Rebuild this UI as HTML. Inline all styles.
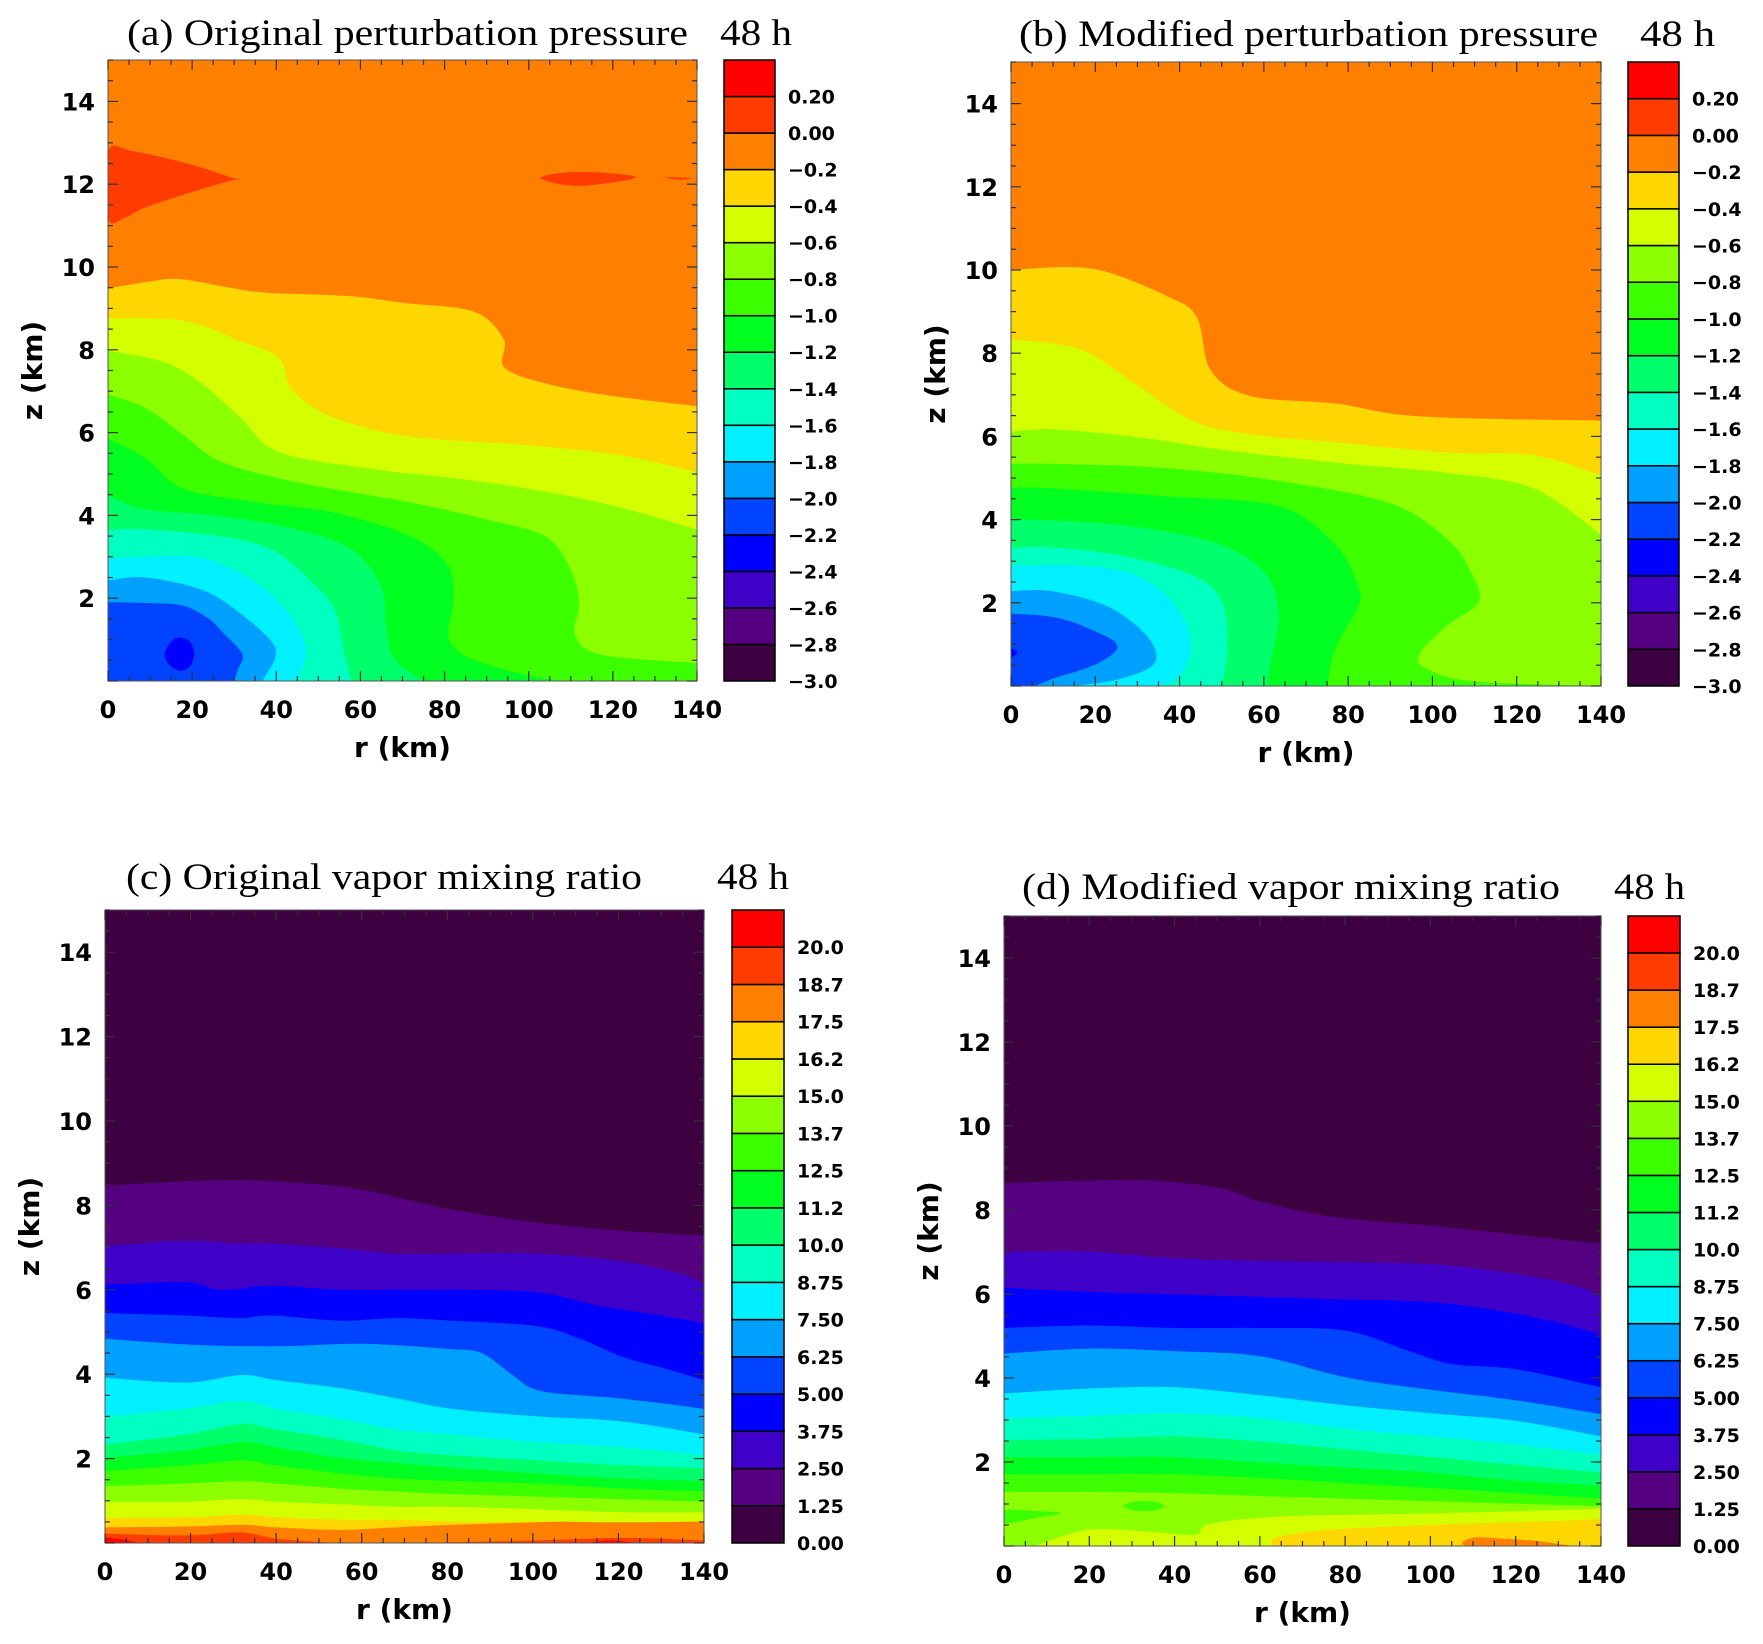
<!DOCTYPE html>
<html><head><meta charset="utf-8"><style>
html,body{margin:0;padding:0;background:#fff;}
svg{display:block;}
</style></head><body>
<svg id="fig" width="1763" height="1644" xmlns="http://www.w3.org/2000/svg"></svg>
<script>
// ---------- shared colour scale ----------
const bandColors = ["#3d0040","#550080","#3f00c8","#0000ff","#0044ff","#00a0ff","#00f0ff","#00ffc0","#00ff6a","#00ff20","#3cff00","#8cff00","#d4ff00","#ffd700","#ff8000","#ff3c00","#ff0000"];
const pressureLabels = ["\u22123.0","\u22122.8","\u22122.6","\u22122.4","\u22122.2","\u22122.0","\u22121.8","\u22121.6","\u22121.4","\u22121.2","\u22121.0","\u22120.8","\u22120.6","\u22120.4","\u22120.2","0.00","0.20"];
const vaporLabels = ["0.00","1.25","2.50","3.75","5.00","6.25","7.50","8.75","10.0","11.2","12.5","13.7","15.0","16.2","17.5","18.7","20.0"];
const xTicks = [0,20,40,60,80,100,120,140];
const yTicks = [2,4,6,8,10,12,14];

// ---------- panel (a) ----------
const aBackground = 4;
const aCurveBands = [5,6,7,8,9,10,11,12,13,14];
const aCurveR = [
 [0,10,18,24,28,32,31,30],
 [0,9,22.6,31.6,38.8,39.7,36.6],
 [0,9,22.6,34.3,42.4,47,45],
 [0,9,27,39,48,54,56,58],
 [0,9,27,45,58,65,66,68,75],
 [0,9,18,36,54,72,81,82,81,86,99,108],
 [0,9,18,27,45,72,90,104,110,112,111,117,140],
 [0,13.5,22.6,31.6,40.6,63,90,117,140],
 [0,18,31.6,40.6,44,54,72,99,122,140],
 [0,10,17,29,37.5,57,70.5,87,94,94.2,103.5,118.7,140]
];
const aCurveZ = [
 [1.9,1.88,1.82,1.5,1.1,0.64,0.3,0],
 [2.43,2.5,2.19,1.62,0.96,0.55,0],
 [2.96,3.0,2.96,2.43,1.7,0.8,0],
 [3.66,3.66,3.49,3.17,2.43,1.7,0.72,0],
 [4.47,4.15,3.98,3.66,3.17,2.27,1.37,0.55,0],
 [5.86,5.37,4.64,4.31,4.06,3.49,2.76,1.86,1.04,0.55,0.15,0],
 [6.92,6.59,5.94,5.29,4.8,4.31,3.9,3.49,2.68,1.86,1.13,0.64,0.43],
 [7.98,7.7,7.16,6.35,5.53,5.12,4.8,4.31,3.66],
 [8.76,8.7,8.2,7.8,7.0,6.35,5.9,5.7,5.45,5.04],
 [9.48,9.65,9.71,9.5,9.38,9.3,9.13,8.92,8.26,7.58,7.2,6.9,6.64]
];
const aBlobBands = [3,15,15,15];
const aBlobR = [
 [13.5,15,17,19.5,20.5,19.5,17,14.5],
 [0,6,19.6,29,31.4,29,19.6,8.7,3.9,0],
 [102.8,111.8,125.5,111.8],
 [132.4,138.6,135.8]
];
const aBlobZ = [
 [0.66,0.95,1.05,0.95,0.66,0.35,0.25,0.4],
 [12.8,12.8,12.48,12.17,12.13,12.08,11.8,11.43,11.18,11.18],
 [12.15,12.3,12.17,11.96],
 [12.17,12.15,12.11]
];

// ---------- panel (b) ----------
const bBackground = 4;
const bCurveBands = [5,6,7,8,9,10,11,12,13,14];
const bCurveR = [
 [0,9.8,17.8,25.2,20.5,9.8,5.8],
 [0,9.8,23.2,32.6,34,25.9,15.2],
 [0,16.5,30,39.3,42.7,39.3,34],
 [0,9.8,26,43.3,50,51.4,50],
 [0,9.8,30,50,60.8,63.5,62,60.8],
 [0,9.8,36.6,63.5,77,82.3,82.3,77,75],
 [0,9.8,36.6,63.5,90.3,103.7,109,111,103.7,97,98.4,110,140],
 [0,9.8,30,50,77,103.7,124,140],
 [0,16.5,30,43.3,56.8,77,103.7,124,140],
 [0,13.8,23.2,36.6,44,47.4,56.8,77,97,140]
];
const bCurveZ = [
 [1.74,1.66,1.41,0.98,0.54,0.17,0],
 [2.28,2.28,1.9,1.16,0.54,0.17,0],
 [2.89,2.89,2.65,1.9,0.92,0.17,0],
 [3.33,3.33,3.14,2.65,2.03,0.92,0],
 [4.0,3.98,3.82,3.39,2.65,1.66,0.79,0],
 [4.77,4.75,4.56,4.32,3.39,2.4,1.9,0.92,0],
 [5.34,5.34,5.24,4.93,4.38,3.51,2.77,2.03,1.47,0.79,0.42,0.11,0],
 [6.11,6.17,5.98,5.68,5.37,5.12,4.75,3.64],
 [8.33,8.09,7.22,6.36,6.05,5.86,5.61,5.55,5.06],
 [10.0,10.07,9.94,9.39,8.89,7.59,6.97,6.79,6.48,6.38]
];
const bBlobBands = [3];
const bBlobR = [[0,1.5,0]];
const bBlobZ = [[0.9,0.8,0.7]];

// ---------- panel (c) ----------
const cBackground = 15;
const cCurveBands = [14,13,12,11,10,9,8,7,6,5,4,3,2,1,0];
const cCurveR = [
 [0,19,32,40,55,68,81,101,121,140],
 [0,19,32,40,55,68,81,101,121,140],
 [0,19,32,40,55,68,81,101,121,140],
 [0,19,32,40,55,68,81,101,121,140],
 [0,19,32,40,55,68,81,101,121,140],
 [0,19,32,40,55,68,81,101,121,140],
 [0,19,32,40,55,68,81,101,121,140],
 [0,19,32,40,55,68,81,101,121,140],
 [0,19,32,40,55,68,81,101,121,140],
 [0,19,32,40,55,68,81,101,121,140],
 [0,20,40,60,80,88,95,102,120,140],
 [0,19,31,39,55,68,81,101,111,121,130,140],
 [0,19,27,39,55,68,81,101,115,130,140],
 [0,19,31,39,55,68,81,101,121,135,140],
 [0,19,31,39,55,68,81,101,121,140]
];
const cCurveZ = [
 [0.22,0.18,0.25,0.1,0,0,0.02,0.06,0.12,0.06],
 [0.37,0.39,0.43,0.37,0.31,0.37,0.43,0.49,0.55,0.55],
 [0.59,0.61,0.67,0.61,0.55,0.55,0.51,0.51,0.49,0.51],
 [0.98,0.98,1.04,0.98,0.92,0.86,0.86,0.8,0.73,0.73],
 [1.35,1.41,1.47,1.41,1.29,1.22,1.16,1.1,1.04,0.98],
 [1.71,1.84,1.96,1.84,1.65,1.53,1.47,1.41,1.29,1.22],
 [2.02,2.2,2.39,2.27,2.02,1.9,1.78,1.65,1.53,1.47],
 [2.33,2.57,2.82,2.69,2.45,2.2,2.08,1.96,1.84,1.78],
 [3.0,3.18,3.37,3.18,2.94,2.69,2.57,2.39,2.27,2.08],
 [3.92,3.8,3.98,3.86,3.67,3.43,3.18,3.0,2.88,2.57],
 [4.84,4.7,4.66,4.72,4.6,4.5,4.0,3.6,3.43,3.18],
 [5.45,5.39,5.33,5.39,5.27,5.33,5.27,5.14,4.84,4.41,4.16,3.86],
 [6.12,6.18,6.0,6.1,6.0,6.0,6.0,5.94,5.63,5.39,5.2],
 [7.04,7.16,7.1,7.1,6.98,6.86,6.86,6.86,6.67,6.37,6.12],
 [8.47,8.57,8.6,8.57,8.45,8.2,7.9,7.59,7.4,7.28]
];
const cBlobBands = [16,16];
const cBlobR = [[0,3,8,3,0],[113,118,124,118]];
const cBlobZ = [[0.12,0.1,0,0,0],[0,0.06,0,0]];

// ---------- panel (d) ----------
const dBackground = 13;
const dCurveBands = [12,11,10,9,8,7,6,5,4,3,2,1,0];
const dCurveR = [
 [63,64,77,104,124,140],
 [7,20,35,45,48,64,91,117,140],
 [0,20,40,60,80,100,120,140],
 [0,20,40,60,80,100,120,140],
 [0,20,40,60,80,100,120,140],
 [0,20,40,60,80,100,120,140],
 [0,20,40,60,80,100,120,140],
 [0,20,40,60,80,100,120,140],
 [0,20,40,60,80,100,120,140],
 [0,20,40,60,80,95,105,120,140],
 [0,20,40,60,80,100,115,130,140],
 [0,20,40,60,80,100,115,130,140],
 [0,20,35,51,60,77,104,124,140]
];
const dCurveZ = [
 [0,0.21,0.39,0.52,0.58,0.64],
 [0,0.39,0.33,0.27,0.52,0.7,0.76,0.82,0.89],
 [1.29,1.29,1.26,1.19,1.13,1.07,1.01,0.95],
 [1.71,1.71,1.71,1.62,1.5,1.38,1.26,1.13],
 [2.12,2.12,2.12,1.99,1.87,1.75,1.56,1.44],
 [2.52,2.55,2.61,2.49,2.3,2.12,1.93,1.75],
 [3.04,3.1,3.16,3.04,2.79,2.61,2.42,2.18],
 [3.63,3.75,3.78,3.59,3.35,3.16,2.98,2.61],
 [4.58,4.7,4.64,4.52,4.02,3.72,3.47,3.14],
 [5.19,5.25,5.19,5.19,5.13,4.64,4.33,4.21,3.78],
 [6.15,6.05,5.99,5.93,5.87,5.81,5.62,5.32,5.03],
 [7.01,7.01,6.85,6.79,6.76,6.71,6.55,6.3,5.99],
 [8.64,8.7,8.7,8.52,8.21,7.84,7.59,7.37,7.2]
];
const dBlobBands = [14,10,10];
const dBlobR = [
 [109,110,118,125,130,131],
 [28,30,33,36,37.5,36,33,30],
 [0,8,13.5,8,0]
];
const dBlobZ = [
 [0,0.2,0.17,0.12,0.05,0],
 [0.95,1.04,1.07,1.04,0.95,0.86,0.83,0.86],
 [0.85,0.83,0.78,0.68,0.55]
];

// ---------- drawing ----------
const NS = "http://www.w3.org/2000/svg";
const svg = document.getElementById("fig");
function mk(tag, attrs, parent){
  const e = document.createElementNS(NS, tag);
  for (const k in attrs) e.setAttribute(k, attrs[k]);
  (parent||svg).appendChild(e);
  return e;
}
function txt(parent, s, attrs){
  const t = mk("text", attrs, parent);
  t.textContent = s;
  return t;
}
function f(v){ return v.toFixed(1); }
// Catmull-Rom smooth open path through pts (starting with M)
function smoothOpen(pts){
  let d = "M"+f(pts[0][0])+","+f(pts[0][1]);
  for (let i=0;i<pts.length-1;i++){
    const p0 = pts[Math.max(i-1,0)], p1=pts[i], p2=pts[i+1], p3=pts[Math.min(i+2,pts.length-1)];
    const c1=[p1[0]+(p2[0]-p0[0])/6, p1[1]+(p2[1]-p0[1])/6];
    const c2=[p2[0]-(p3[0]-p1[0])/6, p2[1]-(p3[1]-p1[1])/6];
    d += " C"+f(c1[0])+","+f(c1[1])+" "+f(c2[0])+","+f(c2[1])+" "+f(p2[0])+","+f(p2[1]);
  }
  return d;
}
function smoothClosed(pts){
  const n=pts.length;
  let d = "M"+f(pts[0][0])+","+f(pts[0][1]);
  for (let i=0;i<n;i++){
    const p0=pts[(i-1+n)%n], p1=pts[i], p2=pts[(i+1)%n], p3=pts[(i+2)%n];
    const c1=[p1[0]+(p2[0]-p0[0])/6, p1[1]+(p2[1]-p0[1])/6];
    const c2=[p2[0]-(p3[0]-p1[0])/6, p2[1]-(p3[1]-p1[1])/6];
    d += " C"+f(c1[0])+","+f(c1[1])+" "+f(c2[0])+","+f(c2[1])+" "+f(p2[0])+","+f(p2[1]);
  }
  return d+" Z";
}

function drawPanel(p){
  const g = mk("g", {});
  
  
  const L=p.box[0], T=p.box[1], R=p.box[2], B=p.box[3];
  const xs = r => L + r/140*(R-L);
  const ys = z => B - z/15*(B-T);
  const clipId = "clip-"+p.id;
  const cp = mk("clipPath",{id:clipId}, g);
  mk("rect",{x:L,y:T,width:R-L,height:B-T}, cp);
  const field = mk("g",{"clip-path":"url(#"+clipId+")"}, g);
  
  
  const bg = mk("rect",{x:L,y:T,width:R-L,height:B-T,fill:bandColors[p.bg]}, field);
  
  
  for (let i=0;i<p.cb.length;i++){
    const rr=p.cr[i], zz=p.cz[i];
    const pts=[];
    for (let j=0;j<rr.length;j++) pts.push([xs(rr[j]),ys(zz[j])]);
    const last=rr.length-1;
    let d = smoothOpen(pts);
    const tail=[];
    if (zz[last]<=0.001 && rr[last]<140) tail.push([xs(140)+2,ys(0)+2]);
    else tail.push([xs(140)+2,ys(zz[last])]);
    tail.push([xs(140)+2,ys(15)-2]);
    tail.push([xs(0)-2,ys(15)-2]);
    if (rr[0]>0) tail.push([xs(0)-2,ys(0)+2]);
    else tail.push([xs(0)-2,ys(zz[0])]);
    tail.forEach(q=>{ d += " L"+f(q[0])+","+f(q[1]); });
    d += " Z";
    const path = mk("path",{d:d,fill:bandColors[p.cb[i]]}, field);
    
    
  }
  for (let i=0;i<p.bb.length;i++){
    const pts=p.br[i].map((r,j)=>[xs(r),ys(p.bz[i][j])]);
    const path = mk("path",{d:smoothClosed(pts),fill:bandColors[p.bb[i]]}, field);
    
    
  }
  const fr = mk("rect",{x:L,y:T,width:R-L,height:B-T,fill:"none",stroke:"#555","stroke-width":1}, g);
  
  
  const tk = mk("g",{stroke:"#333","stroke-width":1.2}, g);
  
  
  for (let r=0;r<=140;r+=5){
    const len = r%20===0?10:5;
    mk("line",{x1:xs(r),y1:B,x2:xs(r),y2:B-len},tk);
    mk("line",{x1:xs(r),y1:T,x2:xs(r),y2:T+len},tk);
  }
  for (let z=0;z<=15;z+=0.5){
    const len = (Math.abs(z%2)<1e-6)?10:5;
    mk("line",{x1:L,y1:ys(z),x2:L+len,y2:ys(z)},tk);
    mk("line",{x1:R,y1:ys(z),x2:R-len,y2:ys(z)},tk);
  }
  const fnt = '"DejaVu Sans", "Liberation Sans", sans-serif';
  xTicks.forEach(v=>{
    const t = txt(g, String(v), {x:xs(v),y:B+37,"text-anchor":"middle","font-family":fnt,"font-weight":"bold","font-size":24,fill:"#000"});
    
    
  });
  yTicks.forEach(v=>{
    const t = txt(g, String(v), {x:L-13,y:ys(v)+9,"text-anchor":"end","font-family":fnt,"font-weight":"bold","font-size":24,fill:"#000"});
    
    
  });
  const xt = txt(g, "r (km)", {x:(L+R)/2,y:B+76,"text-anchor":"middle","font-family":fnt,"font-weight":"bold","font-size":28,fill:"#000"});
  
  
  const yc=(T+B)/2, xc=L-66;
  const yt = txt(g, "z (km)", {x:xc,y:yc,"text-anchor":"middle","font-family":fnt,"font-weight":"bold","font-size":28,fill:"#000",transform:"rotate(-90 "+xc+" "+yc+")"});
  
  
  const serif = '"Liberation Serif", "Times New Roman", serif';
  const tt = txt(g, p.title, {x:p.tx[0],y:p.ty,"font-family":serif,"font-size":37,fill:"#000",textLength:p.tx[1]-p.tx[0],lengthAdjust:"spacingAndGlyphs"});
  
  
  const th = txt(g, "48 h", {x:p.hx[0],y:p.ty,"font-family":serif,"font-size":37,fill:"#000",textLength:p.hx[1]-p.hx[0],lengthAdjust:"spacingAndGlyphs"});
  
  
  const cb = mk("g",{}, g);
  
  
  const cL=p.cbx[0], cR=p.cbx[1];
  const h=(B-T)/17;
  for (let k=0;k<17;k++){
    const rc = mk("rect",{x:cL,y:B-(k+1)*h,width:cR-cL,height:h,fill:bandColors[k],stroke:"#000","stroke-width":1.5}, cb);
    
    
  }
  p.labels.forEach((s,k)=>{
    const t = txt(cb, s, {x:cR+13,y:B-k*h+7,"font-family":fnt,"font-weight":"bold","font-size":19,fill:"#000"});
    
    
  });
}

drawPanel({id:"a",name:"panel-a-original-pressure",box:[108,60,697,681],cbx:[724,775],tx:[127,688],hx:[720,792],ty:45,
  title:"(a) Original perturbation pressure",labels:pressureLabels,bg:aBackground,cb:aCurveBands,cr:aCurveR,cz:aCurveZ,bb:aBlobBands,br:aBlobR,bz:aBlobZ});
drawPanel({id:"b",name:"panel-b-modified-pressure",box:[1011,62,1601,686],cbx:[1628,1679],tx:[1019,1598],hx:[1640,1715],ty:46,
  title:"(b) Modified perturbation pressure",labels:pressureLabels,bg:bBackground,cb:bCurveBands,cr:bCurveR,cz:bCurveZ,bb:bBlobBands,br:bBlobR,bz:bBlobZ});
drawPanel({id:"c",name:"panel-c-original-vapor",box:[105,910,704,1543],cbx:[732,784],tx:[126,642],hx:[717,789],ty:889,
  title:"(c) Original vapor mixing ratio",labels:vaporLabels,bg:cBackground,cb:cCurveBands,cr:cCurveR,cz:cCurveZ,bb:cBlobBands,br:cBlobR,bz:cBlobZ});
drawPanel({id:"d",name:"panel-d-modified-vapor",box:[1004,916,1601,1546],cbx:[1628,1680],tx:[1022,1560],hx:[1614,1685],ty:899,
  title:"(d) Modified vapor mixing ratio",labels:vaporLabels,bg:dBackground,cb:dCurveBands,cr:dCurveR,cz:dCurveZ,bb:dBlobBands,br:dBlobR,bz:dBlobZ});
</script>
</body></html>
